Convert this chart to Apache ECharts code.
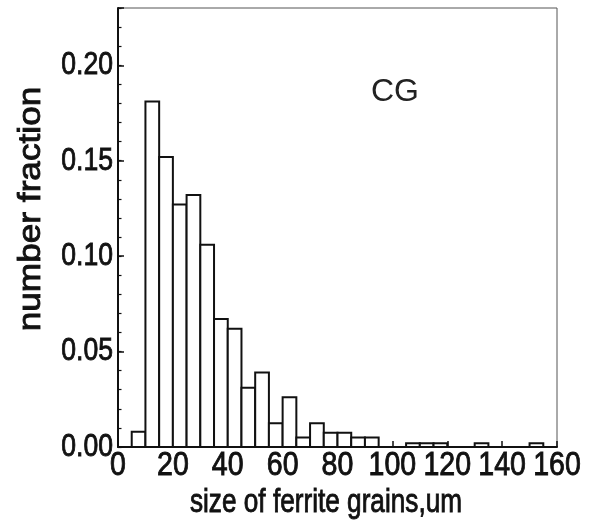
<!DOCTYPE html>
<html>
<head>
<meta charset="utf-8">
<script src="https://cdn.jsdelivr.net/npm/echarts@6/dist/echarts.min.js"></script>
<style>
  html, body { margin: 0; padding: 0; background: #fff; }
  #chart { width: 591px; height: 525px; }
</style>
</head>
<body>
<div id="chart"></div>
<script>
// Grain size histogram, 5 um bins (left edge of each bin)
const binWidth = 5;
const binStarts = [5, 10, 15, 20, 25, 30, 35, 40, 45, 50, 55, 60, 65, 70, 75, 80, 85, 90, 105, 110, 115, 130, 150];
const fractions = [0.008, 0.181, 0.152, 0.127, 0.132, 0.106, 0.067, 0.062, 0.031, 0.039, 0.0125, 0.026,
                   0.005, 0.0125, 0.0075, 0.0075, 0.005, 0.005, 0.002, 0.002, 0.002, 0.002, 0.002];
const xTicks = [0, 20, 40, 60, 80, 100, 120, 140, 160];
const yTicks = [0.00, 0.05, 0.10, 0.15, 0.20];
const yMax = 0.23;
const sampleLabel = 'CG';
const xTitle = 'size of ferrite grains,um';
const yTitle = 'number fraction';

const font = "'Liberation Sans', Arial, sans-serif";
const ink = '#111';
// regular face, slightly thickened with a thin outline
const heavyText = { fontFamily: font, fill: ink, stroke: ink, lineWidth: 0.9 };

const chart = echarts.init(document.getElementById('chart'), null, { renderer: 'canvas' });

chart.setOption({
  animation: false,
  backgroundColor: '#fff',
  grid: {
    left: 118, right: 34, top: 8, bottom: 78,
    show: true, borderColor: '#555', borderWidth: 1, backgroundColor: 'transparent'
  },
  xAxis: {
    type: 'value',
    min: xTicks[0], max: xTicks[xTicks.length - 1],
    interval: xTicks[1] - xTicks[0],
    axisLine: { show: true, lineStyle: { color: ink, width: 2 } },
    axisTick: { show: true, inside: true, length: 6, lineStyle: { color: ink, width: 1.5 } },
    minorTick: { show: true, splitNumber: 2, length: 4, lineStyle: { color: ink, width: 1.5 } },
    splitLine: { show: false },
    axisLabel: { show: false }
  },
  yAxis: [
    {
      type: 'value',
      min: 0, max: yMax,
      interval: yTicks[1] - yTicks[0],
      axisLine: { show: true, lineStyle: { color: ink, width: 2 } },
      axisTick: { show: true, inside: true, length: 6, lineStyle: { color: ink, width: 1.5 } },
      splitLine: { show: false },
      axisLabel: { show: false }
    },
    {
      // 0.01 minor ticks along the left edge
      type: 'value',
      position: 'left',
      min: 0, max: yMax, interval: 0.01,
      axisLine: { show: false },
      axisTick: { show: true, inside: true, length: 3.5, lineStyle: { color: ink, width: 1.2 } },
      axisLabel: { show: false },
      splitLine: { show: false }
    }
  ],
  series: [{
    type: 'custom',
    clip: true,
    data: binStarts.map((s, i) => [s, fractions[i]]),
    encode: { x: 0, y: 1 },
    renderItem: (params, api) => {
      const x0 = api.value(0);
      const top = api.coord([x0, api.value(1)]);
      const base = api.coord([x0 + binWidth, 0]);
      return {
        type: 'rect',
        shape: { x: top[0], y: top[1], width: base[0] - top[0], height: base[1] - top[1] },
        style: { fill: '#fff', stroke: ink, lineWidth: 2 }
      };
    }
  }]
});

// Tick labels in a condensed face: placed at the axes' own pixel positions
const axisX0 = chart.convertToPixel({ xAxisIndex: 0 }, 0);
const axisY0 = chart.convertToPixel({ yAxisIndex: 0 }, 0);

const xLabelEls = xTicks.map(v => ({
  type: 'text',
  x: chart.convertToPixel({ xAxisIndex: 0 }, v),
  y: axisY0 + 19,
  scaleX: 0.84,
  style: Object.assign({ text: String(v), fontSize: 34, align: 'center', verticalAlign: 'middle' }, heavyText)
}));

const yLabelEls = yTicks.map(v => ({
  type: 'text',
  x: axisX0 - 5,
  y: chart.convertToPixel({ yAxisIndex: 0 }, v),
  scaleX: 0.83,
  style: Object.assign({ text: v.toFixed(2), fontSize: 32, align: 'right', verticalAlign: 'middle' }, heavyText)
}));

chart.setOption({
  graphic: [
    ...xLabelEls,
    ...yLabelEls,
    {
      type: 'text', left: 371, top: 76,
      style: { text: sampleLabel, fontFamily: font, fontSize: 32, fill: '#222' }
    },
    {
      type: 'text', x: 326, y: 503, scaleX: 0.77,
      style: Object.assign({ text: xTitle, fontSize: 34, align: 'center', verticalAlign: 'middle' }, heavyText)
    },
    {
      type: 'text', x: 31, y: 209, rotation: Math.PI / 2, scaleX: 1.1,
      style: Object.assign({ text: yTitle, fontSize: 32, align: 'center', verticalAlign: 'middle' }, heavyText)
    }
  ]
});
</script>
</body>
</html>
